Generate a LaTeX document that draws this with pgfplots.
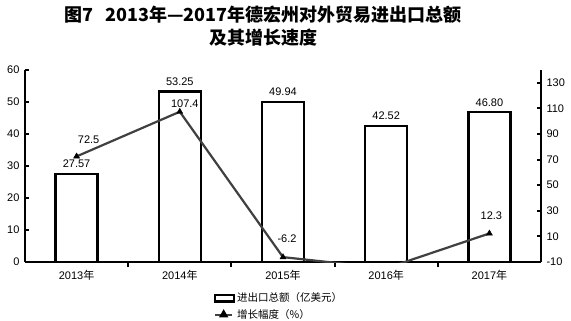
\documentclass[border=0pt]{standalone}
\usepackage{pgfplots}
\pgfplotsset{compat=1.18}
\usepackage{pgfplotstable}
\usepackage{fontspec}
\setmainfont{Liberation Sans}
\newfontfamily\cjk{Noto Sans CJK SC}
\definecolor{linegray}{gray}{0.25}

\pgfplotstableread{
x y lab
0 27.57 27.57
1 53.25 53.25
2 49.94 49.94
3 42.52 42.52
4 46.80 46.80
}\bars

\pgfplotstableread{
x y
0 72.5
1 107.4
2 -6.2
3 -14.9
4 12.3
}\growth

\pgfplotstableread{
x y lab dx dy
0 72.5 72.5 12 16.5
1 107.4 107.4 5 8
2 -6.2 -6.2 4 18
4 12.3 12.3 2 17.5
}\growthmarks

\begin{document}
\begin{tikzpicture}
\path[use as bounding box] (0,0) rectangle (571bp,-321bp);
\node[font=\cjk\bfseries\fontsize{18bp}{20bp}\selectfont] at (263bp,-15bp) {图7\hspace{0.7em}2013年—2017年德宏州对外贸易进出口总额};
\node[font=\cjk\bfseries\fontsize{18bp}{20bp}\selectfont] at (263bp,-38bp) {及其增长速度};

\begin{axis}[
  at={(25bp,-262bp)}, anchor=south west,
  scale only axis, width=516bp, height=192bp,
  xmin=-0.5, xmax=4.5, ymin=0, ymax=60,
  axis y line*=left, axis x line*=bottom,
  axis line style={line width=2.4bp, -},
  ytick={0,10,...,60},
  xtick={0,...,4},
  xticklabels={{2013{\cjk 年}},{2014{\cjk 年}},{2015{\cjk 年}},{2016{\cjk 年}},{2017{\cjk 年}}},
  minor xtick={0.5,1.5,2.5,3.5},
  major x tick style={draw=none},
  tick align=inside,
  tick style={line width=2bp, black},
  major tick length=4bp, minor tick length=5bp,
  /pgf/number format/assume math mode=true,
  ticklabel style={font=\fontsize{11bp}{13bp}\selectfont},
  yticklabel style={xshift=-2bp},
  xticklabel style={yshift=-1bp},
  ybar, bar width=42bp,
  nodes near coords,
  point meta=explicit symbolic,
  every node near coord/.append style={font=\fontsize{11bp}{13bp}\selectfont, anchor=center, yshift=10bp},
]
\addplot[draw=black, fill=white, line width=2.4bp] table[x=x, y=y, meta=lab] {\bars};
\end{axis}

\begin{axis}[
  at={(25bp,-262bp)}, anchor=south west,
  scale only axis, width=516bp, height=192bp,
  xmin=-0.5, xmax=4.5, ymin=-10, ymax=140,
  axis y line*=right, axis x line=none,
  axis line style={line width=2.4bp, -},
  ytick={-10,10,...,130},
  tick align=inside,
  tick style={line width=2bp, black},
  major tick length=4bp,
  ticklabel style={font=\fontsize{11bp}{13bp}\selectfont},
  yticklabel style={xshift=2bp},
  /pgf/number format/assume math mode=true,
  legend style={at={(0.366,-0.15)}, anchor=north west, draw=none, fill=none,
    font=\cjk\fontsize{10.5bp}{12bp}\selectfont, row sep=2bp, inner sep=0pt},
  legend cell align=left,
]
\addlegendimage{legend image code/.code={\draw[draw=black, fill=white, line width=2.2bp] (0bp,-3.2bp) rectangle (19bp,3.2bp);}}
\addlegendentry{进出口总额（亿美元）}
\addlegendimage{color=linegray, line width=2bp, mark=triangle*, mark size=3.5bp, mark options={black}}
\addlegendentry{增长幅度（\%）}
\addplot[color=linegray, line width=2.2bp, forget plot] table[x=x, y=y] {\growth};
\addplot[only marks, mark=triangle*, mark size=3.5bp, black, forget plot,
  nodes near coords, point meta=explicit symbolic,
  visualization depends on={\thisrow{dx}\as\dx},
  visualization depends on={\thisrow{dy}\as\dy},
  every node near coord/.append style={font=\fontsize{11bp}{13bp}\selectfont, anchor=center, xshift={\dx*1bp}, yshift={\dy*1bp}, black}]
  table[x=x, y=y, meta=lab] {\growthmarks};
\end{axis}
\end{tikzpicture}
\end{document}
